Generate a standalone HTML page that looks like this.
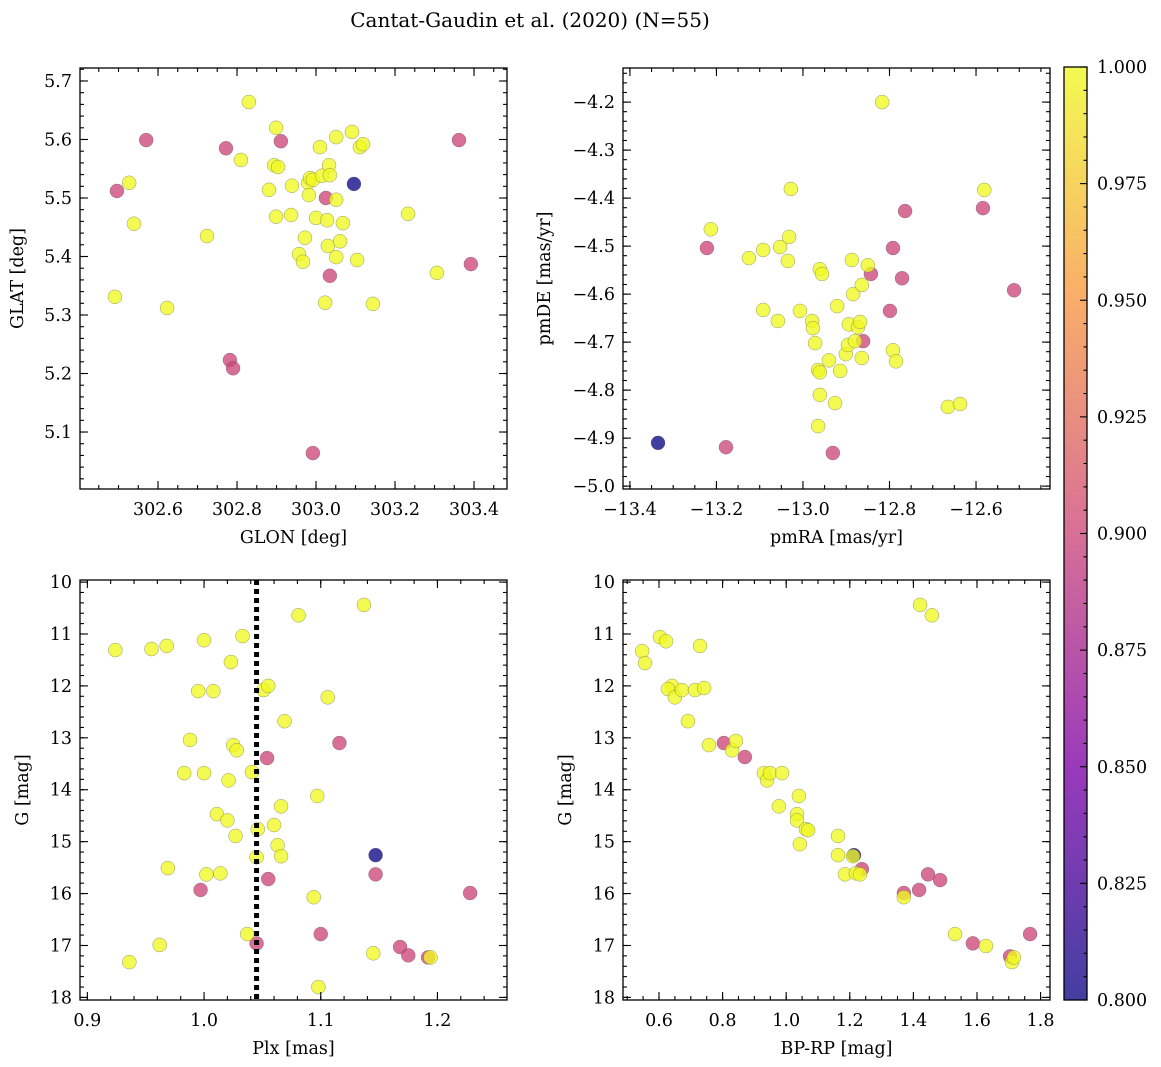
<!DOCTYPE html>
<html><head><meta charset="utf-8"><style>
html,body{margin:0;padding:0;background:#fff;}
svg{display:block;font-family:"DejaVu Serif","Liberation Serif",serif;}
</style></head><body>
<svg id="fig" width="1161" height="1067" xmlns="http://www.w3.org/2000/svg">
<text x="530" y="27" font-size="20" text-anchor="middle">Cantat-Gaudin et al. (2020) (N=55)</text>
</svg>
<script>
// ---------- data ----------
const glon = [302.496,302.527,302.539,302.570,302.491,302.623,302.724,302.830,302.772,302.810,302.782,302.790,302.881,302.899,302.911,302.894,302.904,302.899,302.939,302.937,302.957,302.967,302.972,302.980,302.985,302.982,302.992,303.000,302.992,303.010,303.015,303.025,303.028,303.030,303.033,303.035,303.051,303.051,303.051,303.061,303.068,303.023,303.035,303.091,303.096,303.104,303.111,303.119,303.144,303.233,303.306,303.362,303.392];
const glat = [5.512,5.526,5.456,5.599,5.331,5.312,5.435,5.664,5.585,5.565,5.223,5.209,5.514,5.620,5.597,5.556,5.553,5.468,5.521,5.471,5.404,5.391,5.432,5.526,5.534,5.505,5.531,5.466,5.064,5.587,5.538,5.500,5.462,5.418,5.556,5.539,5.604,5.497,5.399,5.426,5.457,5.321,5.367,5.613,5.524,5.394,5.587,5.592,5.319,5.473,5.372,5.599,5.387];
const probTL = [0.9,1,1,0.9,1,1,1,1,0.9,1,0.9,0.9,1,1,0.9,1,1,1,1,1,1,1,1,1,1,1,1,1,0.9,1,1,0.9,1,1,1,1,1,1,1,1,1,1,0.9,1,0.8,1,1,1,1,1,1,0.9,0.9];

const pmra = [-13.335,-13.222,-13.213,-13.178,-13.125,-13.092,-13.092,-13.058,-13.053,-13.035,-13.032,-13.028,-13.007,-12.979,-12.977,-12.972,-12.965,-12.965,-12.961,-12.961,-12.961,-12.956,-12.940,-12.926,-12.931,-12.921,-12.914,-12.901,-12.896,-12.894,-12.887,-12.884,-12.880,-12.873,-12.868,-12.864,-12.864,-12.861,-12.850,-12.843,-12.817,-12.799,-12.792,-12.792,-12.785,-12.771,-12.764,-12.665,-12.637,-12.584,-12.581,-12.512];
const pmde = [-4.910,-4.504,-4.465,-4.919,-4.525,-4.633,-4.508,-4.656,-4.502,-4.531,-4.481,-4.381,-4.635,-4.656,-4.671,-4.702,-4.758,-4.875,-4.548,-4.763,-4.810,-4.558,-4.738,-4.827,-4.931,-4.625,-4.760,-4.725,-4.706,-4.663,-4.529,-4.600,-4.698,-4.669,-4.658,-4.733,-4.581,-4.698,-4.540,-4.558,-4.200,-4.635,-4.504,-4.717,-4.740,-4.567,-4.427,-4.835,-4.829,-4.421,-4.383,-4.592];
const probTR = [0.8,0.9,1,0.9,1,1,1,1,1,1,1,1,1,1,1,1,1,1,1,1,1,1,1,1,0.9,1,1,1,1,1,1,1,1,1,1,1,1,0.9,1,0.9,1,0.9,0.9,1,1,0.9,0.9,1,1,0.9,1,0.9];

const plx = [0.924,0.955,0.968,1.000,1.033,1.023,1.137,1.081,0.995,1.008,1.051,1.055,1.106,1.069,0.988,1.025,1.028,1.116,0.983,1.000,1.021,1.041,1.054,1.066,1.097,1.011,1.020,1.027,1.046,1.060,1.063,1.066,1.045,1.147,0.969,1.002,1.014,1.055,1.147,0.997,1.094,1.228,1.037,1.100,0.962,1.045,0.936,1.145,1.168,1.175,1.192,1.098,1.194];
const gmagBL = [11.31,11.29,11.23,11.12,11.04,11.54,10.44,10.64,12.10,12.10,12.08,12.00,12.22,12.68,13.04,13.14,13.24,13.10,13.68,13.68,13.82,13.66,13.39,14.32,14.12,14.47,14.59,14.89,14.76,14.68,15.07,15.28,15.30,15.26,15.51,15.63,15.61,15.72,15.63,15.93,16.07,15.99,16.78,16.78,16.99,16.96,17.32,17.15,17.03,17.19,17.23,17.80,17.23];
const probBL = [1,1,1,1,1,1,1,1,1,1,1,1,1,1,1,1,1,0.9,1,1,1,1,0.9,1,1,1,1,1,1,1,1,1,1,0.8,1,1,1,0.9,0.9,0.9,1,0.9,1,0.9,1,0.9,1,1,0.9,0.9,0.9,1,1];
const plxCut = 1.045;

const bprp = [0.547,0.556,0.603,0.622,0.641,0.628,0.650,0.672,0.713,0.742,0.729,0.691,0.757,0.804,0.830,0.842,0.870,0.930,0.940,0.949,0.987,0.977,1.034,1.040,1.034,1.062,1.069,1.043,1.163,1.163,1.213,1.210,1.238,1.185,1.219,1.232,1.370,1.370,1.418,1.446,1.484,1.421,1.458,1.531,1.587,1.628,1.704,1.710,1.716,1.767];
const gmagBR = [11.33,11.56,11.06,11.14,12.00,12.06,12.22,12.08,12.08,12.04,11.23,12.68,13.14,13.10,13.24,13.06,13.37,13.68,13.82,13.68,13.68,14.32,14.47,14.12,14.59,14.76,14.78,15.05,14.89,15.26,15.26,15.28,15.53,15.63,15.61,15.63,15.99,16.07,15.93,15.63,15.74,10.44,10.64,16.78,16.96,17.01,17.21,17.32,17.23,16.78];
const probBR = [1,1,1,1,1,1,1,1,1,1,1,1,1,0.9,1,1,0.9,1,1,1,1,1,1,1,1,1,1,1,1,1,0.8,1,0.9,1,1,1,0.9,1,0.9,0.9,0.9,1,1,1,0.9,1,0.9,1,1,0.9];

const cbarTicks = [0.800,0.825,0.850,0.875,0.900,0.925,0.950,0.975,1.000];

// ---------- helpers ----------
const NS = "http://www.w3.org/2000/svg";
const fig = document.getElementById('fig');
function mk(tag, attrs, parent){ const e=document.createElementNS(NS,tag); for(const k in attrs) e.setAttribute(k,attrs[k]); (parent||fig).appendChild(e); return e; }
const plasma = [[0,[13,8,135]],[0.25,[126,3,168]],[0.5,[204,71,120]],[0.75,[248,149,64]],[1,[240,249,33]]];
function cmap(v){ let t=(v-0.8)/0.2; t=Math.max(0,Math.min(1,t));
  for(let i=0;i<plasma.length-1;i++){ const a=plasma[i],b=plasma[i+1]; if(t<=b[0]){ const f=(t-a[0])/(b[0]-a[0]); const c=a[1].map((x,j)=>Math.round(x+(b[1][j]-x)*f)); return `rgb(${c})`; } }
  return 'rgb(240,249,33)'; }
function fmt(v,d){ return v.toFixed(d).replace('-','\u2212'); }
const FS = 17.5;

function panel(o){
  const g = mk('g',{});
  
  
  const X = v => o.L + (v-o.x0)/(o.x1-o.x0)*(o.R-o.L);
  const Y = v => o.T + (v-o.y0)/(o.y1-o.y0)*(o.B-o.T);
  const pg = mk('g',{},g);
  
  
  const order = o.xs.map((_,i)=>i).sort((a,b)=>o.cs[a]-o.cs[b]);
  order.forEach(i=>{
    const c = mk('circle',{cx:X(o.xs[i]),cy:Y(o.ys[i]),r:7,fill:cmap(o.cs[i]),'fill-opacity':0.78,stroke:'#555','stroke-width':0.5,'stroke-opacity':0.6},pg);
    
    
  });
  if(o.extra) o.extra(g,X,Y);
  const tg = mk('g',{stroke:'#000','stroke-width':1.1},g);
  const eps=1e-9;
  function ticksX(step,len){ const s=Math.ceil(Math.min(o.x0,o.x1)/step-eps); for(let k=s; k*step<=Math.max(o.x0,o.x1)+eps; k++){ const x=X(k*step); mk('line',{x1:x,x2:x,y1:o.B,y2:o.B-len},tg); mk('line',{x1:x,x2:x,y1:o.T,y2:o.T+len},tg);} }
  function ticksY(step,len){ const lo=Math.min(o.y0,o.y1),hi=Math.max(o.y0,o.y1); const s=Math.ceil(lo/step-eps); for(let k=s; k*step<=hi+eps; k++){ const y=Y(k*step); mk('line',{x1:o.L,x2:o.L+len,y1:y,y2:y},tg); mk('line',{x1:o.R,x2:o.R-len,y1:y,y2:y},tg);} }
  ticksX(o.xmin,4); ticksX(o.xmaj,8); ticksY(o.ymin,4); ticksY(o.ymaj,8);
  mk('rect',{x:o.L,y:o.T,width:o.R-o.L,height:o.B-o.T,fill:'none',stroke:'#000','stroke-width':1.3},g);
  o.xt.forEach(v=>{ const t=mk('text',{x:X(v),y:o.B+26,'font-size':FS,'text-anchor':'middle'},g); t.textContent=fmt(v,o.xd);
      });
  o.yt.forEach(v=>{ const t=mk('text',{x:o.L-8,y:Y(v)+6,'font-size':FS,'text-anchor':'end'},g); t.textContent=fmt(v,o.yd);
      });
  const xl=mk('text',{x:(o.L+o.R)/2,y:o.B+54,'font-size':FS,'text-anchor':'middle'},g); xl.textContent=o.xlab;
   
  const yx=o.ylx, yy=(o.T+o.B)/2;
  const yl=mk('text',{x:yx,y:yy,'font-size':FS,'text-anchor':'middle',transform:`rotate(-90 ${yx} ${yy})`},g); yl.textContent=o.ylab;
   
}

panel({name:'glon-glat-panel',L:80,R:507,T:68,B:489,x0:302.4025,x1:303.4835,y0:5.7222,y1:5.0026,
  xs:glon,ys:glat,cs:probTL,xmaj:0.2,xmin:0.05,ymaj:0.1,ymin:0.02,xt:[302.6,302.8,303.0,303.2,303.4],xd:1,
  yt:[5.1,5.2,5.3,5.4,5.5,5.6,5.7],yd:1,xlab:'GLON [deg]',ylab:'GLAT [deg]',ylx:23});
panel({name:'proper-motion-panel',L:623,R:1050,T:68,B:489,x0:-13.416,x1:-12.429,y0:-4.129,y1:-5.006,
  xs:pmra,ys:pmde,cs:probTR,xmaj:0.2,xmin:0.05,ymaj:0.1,ymin:0.02,xt:[-13.4,-13.2,-13.0,-12.8,-12.6],xd:1,
  yt:[-5.0,-4.9,-4.8,-4.7,-4.6,-4.5,-4.4,-4.3,-4.2],yd:1,xlab:'pmRA [mas/yr]',ylab:'pmDE [mas/yr]',ylx:550});
panel({name:'plx-g-panel',L:80,R:507,T:580,B:1000,x0:0.8937,x1:1.2596,y0:9.96,y1:18.05,
  xs:plx,ys:gmagBL,cs:probBL,xmaj:0.1,xmin:0.02,ymaj:1,ymin:0.2,xt:[0.9,1.0,1.1,1.2],xd:1,
  yt:[10,11,12,13,14,15,16,17,18],yd:0,xlab:'Plx [mas]',ylab:'G [mag]',ylx:28,
  extra:(g,X,Y)=>{ const l=mk('line',{x1:X(plxCut),x2:X(plxCut),y1:580,y2:1000,stroke:'#000','stroke-width':5,'stroke-dasharray':'5,4'},g);
      }});
panel({name:'cmd-panel',L:623,R:1050,T:580,B:1000,x0:0.4868,x1:1.8296,y0:9.96,y1:18.05,
  xs:bprp,ys:gmagBR,cs:probBR,xmaj:0.2,xmin:0.05,ymaj:1,ymin:0.2,xt:[0.6,0.8,1.0,1.2,1.4,1.6,1.8],xd:1,
  yt:[10,11,12,13,14,15,16,17,18],yd:0,xlab:'BP-RP [mag]',ylab:'G [mag]',ylx:571});

// colorbar
const cb = mk('g',{});


const defs = mk('defs',{},cb);
const lg = mk('linearGradient',{id:'cbg',x1:0,y1:1,x2:0,y2:0},defs);
plasma.forEach(s=>mk('stop',{offset:s[0],'stop-color':`rgb(${s[1]})`},lg));
const CT=67,CB=1000,CL=1064,CR=1087;
mk('rect',{x:CL,y:CT,width:CR-CL,height:CB-CT,fill:'url(#cbg)','fill-opacity':0.78},cb);
const CY=v=>CB-(v-0.8)/0.2*(CB-CT);
for(let k=0;k<=40;k++){ const y=CY(0.8+k*0.005); const len=(k%5===0)?7:3.5; mk('line',{x1:CR,x2:CR-len,y1:y,y2:y,stroke:'#000','stroke-width':1.1},cb); }
mk('rect',{x:CL,y:CT,width:CR-CL,height:CB-CT,fill:'none',stroke:'#000','stroke-width':1.3},cb);
cbarTicks.forEach(v=>{ const t=mk('text',{x:CR+10,y:CY(v)+6,'font-size':FS},cb); t.textContent=v.toFixed(3);
    });
</script>
</body></html>
